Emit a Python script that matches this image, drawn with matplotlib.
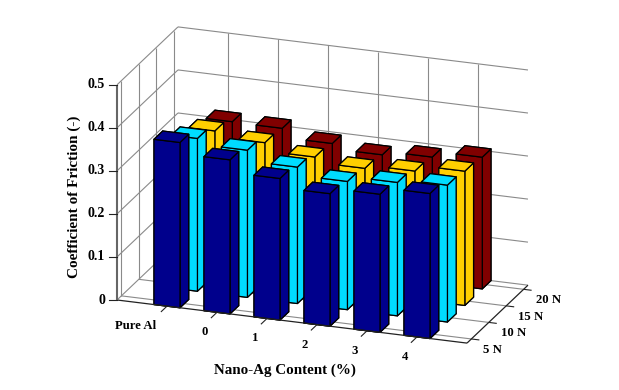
import matplotlib
matplotlib.use('Agg')
import matplotlib.pyplot as plt
from mpl_toolkits.mplot3d import proj3d

plt.rcParams['font.family'] = ['Liberation Serif', 'DejaVu Serif']
plt.rcParams['font.weight'] = 'bold'

# Data
contents = ['Pure Al', '0', '1', '2', '3', '4']
loads = ['5 N', '10 N', '15 N', '20 N']
z_labels = ['0', '0.1', '0.2', '0.3', '0.4', '0.5']
cof_5n = [0.384, 0.358, 0.329, 0.308, 0.321, 0.337]
cof_10n = [0.355, 0.342, 0.317, 0.298, 0.310, 0.318]
cof_15n = [0.334, 0.321, 0.302, 0.290, 0.298, 0.312]
cof_20n = [0.317, 0.316, 0.295, 0.283, 0.292, 0.306]
series = [cof_5n, cof_10n, cof_15n, cof_20n]
colors = ['#00008c', '#00dcff', '#ffcf00', '#800000']

W, H = 619, 390
GRID = '#8a8a8a'
DARK = '#222222'
X0, X1 = 0, 7
Y0, Y1 = 0.75, 4.25
Z0, Z1 = 0, 0.5

fig = plt.figure(figsize=(W / 100, H / 100), dpi=100, facecolor='white')
ax = fig.add_axes([0, 0, 1, 1], projection='3d', proj_type='ortho', computed_zorder=False)
ax.view_init(elev=20, azim=-70.2)
ax.set_xlim(X0, X1, view_margin=0)
ax.set_ylim(Y0, Y1, view_margin=0)
ax.set_zlim(Z0, Z1, view_margin=0)
ax.set_axis_off()
aspect = (372, 180, 229)


def to_pixels(x, y, z):
    px, py, _ = proj3d.proj_transform(x, y, z, ax.get_proj())
    return ax.transData.transform((px, py))


# scale and shift the box so the floor corners land where they are in the picture
ax.set_box_aspect(aspect, zoom=1)
ax.apply_aspect()
a = to_pixels(X0, Y0, Z0)
b = to_pixels(X1, Y0, Z0)
zoom = 350 / (b[0] - a[0])
ax.set_box_aspect(aspect, zoom=zoom)
ax.apply_aspect()
a = to_pixels(X0, Y0, Z0)
ax.set_position([(117 - a[0]) / W, ((H - 300) - a[1]) / H, 1, 1])
ax.apply_aspect()


def line3(xs, ys, zs, color=GRID, lw=0.8, zorder=1):
    ax.plot(xs, ys, zs, color=color, lw=lw, zorder=zorder, solid_capstyle='butt', clip_on=False)


x_ticks = range(1, len(contents) + 1)
y_ticks = range(1, len(loads) + 1)
z_ticks = [0.1 * i for i in range(len(z_labels))]

# walls and floor
for z in z_ticks:
    line3([X0, X1], [Y1, Y1], [z, z])
    line3([X0, X0], [Y0, Y1], [z, z])
for x in x_ticks:
    line3([x, x], [Y1, Y1], [Z0, Z1])
    line3([x, x], [Y0, Y1], [Z0, Z0])
for y in y_ticks:
    line3([X0, X0], [y, y], [Z0, Z1])
    line3([X0, X1], [y, y], [Z0, Z0])

# bars, back row first so the front ones cover them
order = 10
for j in reversed(range(len(series))):
    for i, val in enumerate(series[j]):
        ax.bar3d(i + 1 - 0.26, j + 1 - 0.25, 0, 0.52, 0.5, val, color=colors[j],
                 shade=False, edgecolor='black', linewidth=0.9, zorder=order)
        order += 1

# axes lines and ticks
top = order + 1
line3([X0, X1], [Y0, Y0], [Z0, Z0], DARK, 0.9, top)
line3([X1, X1], [Y0, Y1], [Z0, Z0], DARK, 0.9, top)
line3([X0, X0], [Y0, Y0], [Z0, Z1], '#666666', 1.5, top)
for x in x_ticks:
    line3([x, x], [Y0, Y0 - 0.35], [Z0, Z0], DARK, 0.8, top)
for y in y_ticks:
    line3([X1, X1 + 0.16], [y, y], [Z0, Z0], DARK, 0.8, top)
for z, label in zip(z_ticks, z_labels):
    pa = to_pixels(X0, Y0, z)
    fig.add_artist(plt.Line2D([(pa[0] - 8) / W, pa[0] / W], [pa[1] / H, pa[1] / H],
                              color=DARK, lw=0.8))
    fig.text((pa[0] - 12) / W, pa[1] / H, label, ha='right', va='center', fontsize=10)

# tick labels
for x, label in zip(x_ticks, contents):
    pa = to_pixels(x, Y0, Z0)
    shift = -31 if label == 'Pure Al' else -12
    fig.text((pa[0] + shift) / W, (pa[1] - 20) / H, label, ha='center', va='center', fontsize=9.2)
for y, label in zip(y_ticks, loads):
    pa = to_pixels(X1, y, Z0)
    fig.text((pa[0] + 12) / W, (pa[1] - 11) / H, label, ha='left', va='center', fontsize=9.2)

fig.text(285 / W, 1 - 370 / H, 'Nano-Ag Content (%)', ha='center', va='center', fontsize=10.8)
fig.text(74 / W, 1 - 197 / H, 'Coefficient of Friction (-)', ha='center', va='center',
         rotation=90, fontsize=11)

fig.savefig('out.png', dpi=100)
